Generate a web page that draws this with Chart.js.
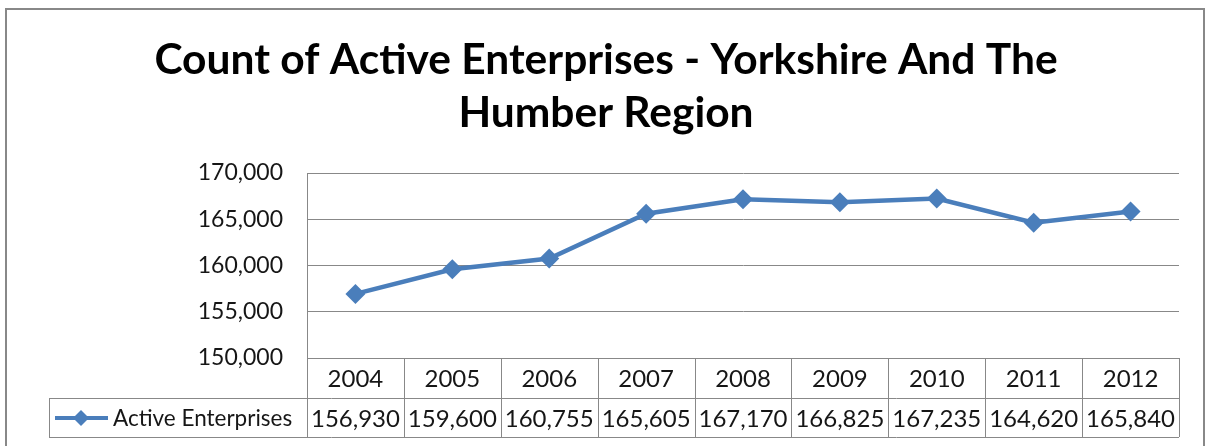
<!DOCTYPE html>
<html lang="en">
<head>
    <meta charset="UTF-8">
    <title>Count of Active Enterprises - Yorkshire And The Humber Region</title>
    <script src="https://cdn.jsdelivr.net/npm/chart.js"></script>
    <style>
        body { margin: 0; background: #fff; }
        canvas { display: block; }
    </style>
</head>
<body>
    <canvas id="enterpriseChart" width="1206" height="446"></canvas>

    <script>
        const years = ['2004', '2005', '2006', '2007', '2008', '2009', '2010', '2011', '2012'];
        const activeEnterprises = [156930, 159600, 160755, 165605, 167170, 166825, 167235, 164620, 165840];
        const seriesName = 'Active Enterprises';
        const yTicks = [150000, 155000, 160000, 165000, 170000];

        const lineColor = '#4a7ebb';
        const gridColor = '#888888';
        const textColor = '#161616';
        const fontFamily = 'Lato, "Open Sans", sans-serif';

        const fmt = v => v.toLocaleString('en-US');

        // outer frame of the chart object
        const framePlugin = {
            id: 'frame',
            beforeDraw(chart) {
                const ctx = chart.ctx;
                ctx.save();
                ctx.strokeStyle = gridColor;
                ctx.lineWidth = 2;
                ctx.strokeRect(6, 9, 1198, 460);
                ctx.restore();
            }
        };

        // Excel style data table under the plot area
        const dataTablePlugin = {
            id: 'dataTable',
            afterDraw(chart) {
                const ctx = chart.ctx;
                const area = chart.chartArea;
                const xScale = chart.scales.x;
                const rowH = 40;
                const top = area.bottom;
                const mid = top + rowH;
                const bottom = mid + rowH - 1;
                const legendLeft = 49;
                const colW = (area.right - area.left) / years.length;

                ctx.save();
                ctx.strokeStyle = gridColor;
                ctx.lineWidth = 1;
                ctx.beginPath();
                // horizontal rules
                ctx.moveTo(area.left, top + 0.5);
                ctx.lineTo(area.right, top + 0.5);
                ctx.moveTo(legendLeft, mid + 0.5);
                ctx.lineTo(area.right, mid + 0.5);
                ctx.moveTo(legendLeft, bottom + 0.5);
                ctx.lineTo(area.right, bottom + 0.5);
                // vertical rules
                ctx.moveTo(legendLeft + 0.5, mid);
                ctx.lineTo(legendLeft + 0.5, bottom);
                for (let i = 0; i <= years.length; i++) {
                    const x = Math.round(area.left + i * colW) + 0.5;
                    ctx.moveTo(x, top);
                    ctx.lineTo(x, bottom);
                }
                ctx.stroke();

                // text
                ctx.fillStyle = textColor;
                ctx.font = '24px ' + fontFamily;
                ctx.textAlign = 'center';
                ctx.textBaseline = 'middle';
                years.forEach((y, i) => {
                    const x = xScale.getPixelForValue(i);
                    ctx.fillText(y, x, top + rowH / 2 + 1);
                    ctx.fillText(fmt(activeEnterprises[i]), x, mid + rowH / 2 + 1);
                });

                // legend key
                const ky = mid + rowH / 2;
                ctx.strokeStyle = lineColor;
                ctx.lineWidth = 4;
                ctx.beginPath();
                ctx.moveTo(55, ky);
                ctx.lineTo(108, ky);
                ctx.stroke();
                ctx.fillStyle = lineColor;
                ctx.beginPath();
                ctx.moveTo(81, ky - 8);
                ctx.lineTo(89, ky);
                ctx.lineTo(81, ky + 8);
                ctx.lineTo(73, ky);
                ctx.closePath();
                ctx.fill();

                ctx.fillStyle = textColor;
                ctx.font = '22.5px ' + fontFamily;
                ctx.textAlign = 'left';
                ctx.fillText(seriesName, 113, ky + 1);
                ctx.restore();
            }
        };

        const ctx = document.getElementById('enterpriseChart').getContext('2d');
        new Chart(ctx, {
            type: 'line',
            data: {
                labels: years,
                datasets: [{
                    label: seriesName,
                    data: activeEnterprises,
                    borderColor: lineColor,
                    backgroundColor: lineColor,
                    borderWidth: 4.5,
                    pointStyle: 'rectRot',
                    pointRadius: 10,
                    pointBorderWidth: 0,
                    tension: 0
                }]
            },
            options: {
                responsive: false,
                animation: false,
                layout: {
                    padding: { left: 33, right: 27, top: 0, bottom: 88 }
                },
                plugins: {
                    legend: { display: false },
                    tooltip: { enabled: false },
                    title: {
                        display: true,
                        text: ['Count of Active Enterprises - Yorkshire And The', 'Humber Region'],
                        color: '#000',
                        font: { family: fontFamily, size: 42.5, weight: 'bold', lineHeight: '53px' },
                        padding: { top: 34, bottom: 33 }
                    }
                },
                scales: {
                    x: {
                        display: false,
                        offset: true
                    },
                    y: {
                        min: 150000,
                        max: 170000,
                        afterFit(scale) { scale.width = 274; },
                        afterBuildTicks(scale) {
                            scale.ticks = yTicks.map(v => ({ value: v }));
                        },
                        ticks: {
                            padding: 24,
                            color: textColor,
                            font: { family: fontFamily, size: 23 },
                            callback: v => fmt(v)
                        },
                        grid: {
                            color: gridColor,
                            drawTicks: false
                        },
                        border: { display: true, color: gridColor }
                    }
                }
            },
            plugins: [framePlugin, dataTablePlugin]
        });
    </script>
</body>
</html>
